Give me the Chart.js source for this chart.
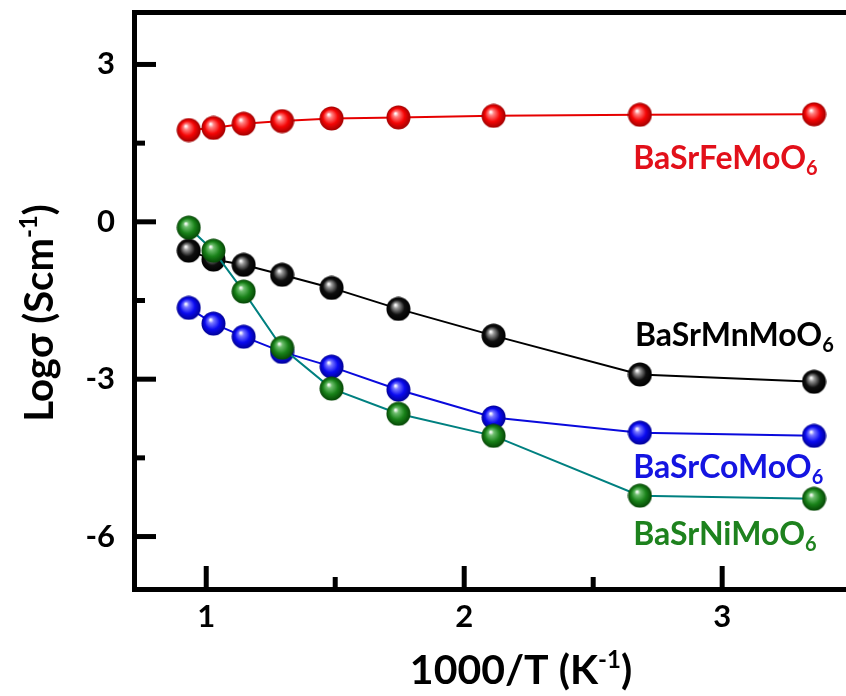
<!DOCTYPE html>
<html>
<head>
<meta charset="utf-8">
<script src="https://cdn.jsdelivr.net/npm/chart.js@4.4.1/dist/chart.umd.min.js"></script>
<style>
  html, body { margin: 0; padding: 0; background: #fff; overflow: hidden; }
</style>
</head>
<body>
<canvas id="myChart" width="846" height="696"></canvas>
<script>
// 1000/T for 800, 700, ... 100, 25 C
const invT = [0.932, 1.028, 1.145, 1.294, 1.486, 1.745, 2.114, 2.681, 3.356];

const feValues = [1.75, 1.79, 1.87, 1.92, 1.97, 1.99, 2.02, 2.04, 2.05];
const mnValues = [-0.55, -0.72, -0.82, -1.01, -1.26, -1.66, -2.17, -2.91, -3.05];
const coValues = [-1.64, -1.94, -2.19, -2.48, -2.76, -3.20, -3.73, -4.02, -4.08];
const niValues = [-0.11, -0.55, -1.33, -2.40, -3.18, -3.66, -4.08, -5.22, -5.28];

const seriesNames = ["BaSrFeMoO", "BaSrMnMoO", "BaSrCoMoO", "BaSrNiMoO"];
const seriesSub = "6";

const xTickValues = [1, 1.5, 2, 2.5, 3];
const yTickValues = [3, 1.5, 0, -1.5, -3, -4.5, -6];

const FONT = "Lato";

// little shaded balls used as markers (drawn at their own size)
function sphere(light, base, dark) {
    const c = document.createElement("canvas");
    c.width = 25;
    c.height = 25;
    const g = c.getContext("2d");
    const grad = g.createRadialGradient(9.5, 8.5, 0.5, 12.5, 12.5, 12);
    grad.addColorStop(0, "#ffffff");
    grad.addColorStop(0.2, light);
    grad.addColorStop(0.6, base);
    grad.addColorStop(1, dark);
    g.fillStyle = grad;
    g.beginPath();
    g.arc(12.5, 12.5, 12, 0, Math.PI * 2);
    g.fill();
    return c;
}

const toPoints = (vals) => invT.map((x, i) => ({ x: x, y: vals[i] }));

// text with a raised / lowered part
function drawRich(ctx, parts, x, y, align) {
    let total = 0;
    parts.forEach(p => {
        ctx.font = "bold " + p.size + "px " + FONT;
        p.w = ctx.measureText(p.t).width;
        total += p.w;
    });
    let cx = align === "center" ? x - total / 2 : x;
    parts.forEach(p => {
        ctx.font = "bold " + p.size + "px " + FONT;
        ctx.fillText(p.t, cx, y + (p.dy || 0));
        cx += p.w;
    });
}

const seriesLabels = [
    { name: 0, x: 2.655, y: 1.01, color: "rgb(226, 16, 26)" },
    { name: 1, x: 2.662, y: -2.36, color: "#000000" },
    { name: 2, x: 2.655, y: -4.88, color: "rgb(20, 20, 225)" },
    { name: 3, x: 2.655, y: -6.17, color: "rgb(30, 130, 30)" },
];

const decorations = {
    id: "decorations",
    beforeDatasetsDraw(chart) {
        const ctx = chart.ctx;
        const xs = chart.scales.x;
        const ys = chart.scales.y;
        const area = chart.chartArea;
        ctx.save();
        ctx.strokeStyle = "#000";
        ctx.lineWidth = 5;
        ctx.lineCap = "butt";
        // inward ticks
        ys.ticks.forEach(t => {
            const py = ys.getPixelForValue(t.value);
            const len = t.value % 3 === 0 ? 22 : 11;
            ctx.beginPath();
            ctx.moveTo(area.left, py);
            ctx.lineTo(area.left + len, py);
            ctx.stroke();
        });
        xs.ticks.forEach(t => {
            const px = xs.getPixelForValue(t.value);
            const len = Number.isInteger(t.value) ? 23 : 12;
            ctx.beginPath();
            ctx.moveTo(px, area.bottom);
            ctx.lineTo(px, area.bottom - len);
            ctx.stroke();
        });
        ctx.restore();
    },
    afterDatasetsDraw(chart) {
        const ctx = chart.ctx;
        const xs = chart.scales.x;
        const ys = chart.scales.y;
        ctx.save();
        ctx.textBaseline = "alphabetic";
        ctx.textAlign = "left";
        seriesLabels.forEach(l => {
            ctx.fillStyle = l.color;
            drawRich(ctx, [
                { t: seriesNames[l.name], size: 32 },
                { t: seriesSub, size: 20, dy: 6 }
            ], xs.getPixelForValue(l.x), ys.getPixelForValue(l.y), "left");
        });

        // axis titles
        ctx.fillStyle = "#000";
        drawRich(ctx, [
            { t: "1000/T (K", size: 41 },
            { t: "-1", size: 24, dy: -16 },
            { t: ")", size: 41 }
        ], 521, 684, "center");

        ctx.translate(53, 313);
        ctx.rotate(-Math.PI / 2);
        drawRich(ctx, [
            { t: "Log\u03c3 (Scm", size: 40 },
            { t: "-1", size: 24, dy: -16 },
            { t: ")", size: 40 }
        ], 0, 0, "center");
        ctx.restore();
    }
};

// keep tick labels from pushing the plot area around
const noEdgePadding = (scale) => {
    scale.paddingTop = 0;
    scale.paddingBottom = 0;
    scale.paddingLeft = 0;
    scale.paddingRight = 0;
};

const ctx = document.getElementById("myChart");

const lineSet = (name, vals, color, ball) => ({
    label: name,
    data: toPoints(vals),
    borderColor: color,
    borderWidth: 2,
    pointStyle: ball,
    pointRadius: 1,
    pointHoverRadius: 0,
    pointBorderWidth: 0,
});

let myChart = new Chart(ctx, {
    type: "line",
    data: {
        datasets: [
            lineSet(seriesNames[3], niValues, "rgb(0, 128, 128)",
                sphere("rgb(110, 190, 110)", "rgb(25, 130, 25)", "rgb(5, 70, 5)")),
            lineSet(seriesNames[1], mnValues, "#000000",
                sphere("rgb(150, 150, 150)", "rgb(15, 15, 15)", "rgb(0, 0, 0)")),
            lineSet(seriesNames[2], coValues, "rgb(10, 10, 220)",
                sphere("rgb(120, 120, 255)", "rgb(10, 10, 240)", "rgb(0, 0, 150)")),
            lineSet(seriesNames[0], feValues, "rgb(230, 0, 0)",
                sphere("rgb(255, 130, 130)", "rgb(245, 5, 5)", "rgb(160, 0, 0)")),
        ],
    },
    options: {
        responsive: false,
        animation: false,
        layout: { autoPadding: false, padding: { top: 12, left: 0, right: 0, bottom: 0 } },
        plugins: {
            legend: { display: false },
            tooltip: { enabled: false }
        },
        scales: {
            x: {
                type: "linear",
                min: 0.72,
                max: 3.48,
                afterBuildTicks: (scale) => { scale.ticks = xTickValues.map(v => ({ value: v })); },
                afterFit: (scale) => { scale.height = 107; noEdgePadding(scale); },
                grid: { display: false, drawTicks: false },
                border: { display: true, color: "#000", width: 5 },
                ticks: {
                    padding: 9,
                    color: "#000",
                    font: { family: FONT, size: 31, weight: "bold" },
                    maxRotation: 0,
                    callback: (v) => Number.isInteger(v) ? v : ""
                }
            },
            x2: {
                type: "linear",
                position: "top",
                min: 0.72,
                max: 3.48,
                afterFit: (scale) => { scale.height = 0; noEdgePadding(scale); },
                grid: { display: false, drawTicks: false },
                border: { display: true, color: "#000", width: 5 },
                ticks: { display: false }
            },
            y: {
                min: -7,
                max: 4,
                afterBuildTicks: (scale) => { scale.ticks = yTickValues.map(v => ({ value: v })); },
                afterFit: (scale) => { scale.width = 134; noEdgePadding(scale); },
                grid: { display: false, drawTicks: false },
                border: { display: true, color: "#000", width: 5 },
                ticks: {
                    padding: 19,
                    color: "#000",
                    font: { family: FONT, size: 31, weight: "bold" },
                    callback: (v) => v % 3 === 0 ? v : ""
                }
            }
        }
    },
    plugins: [decorations]
});
</script>
</body>
</html>
